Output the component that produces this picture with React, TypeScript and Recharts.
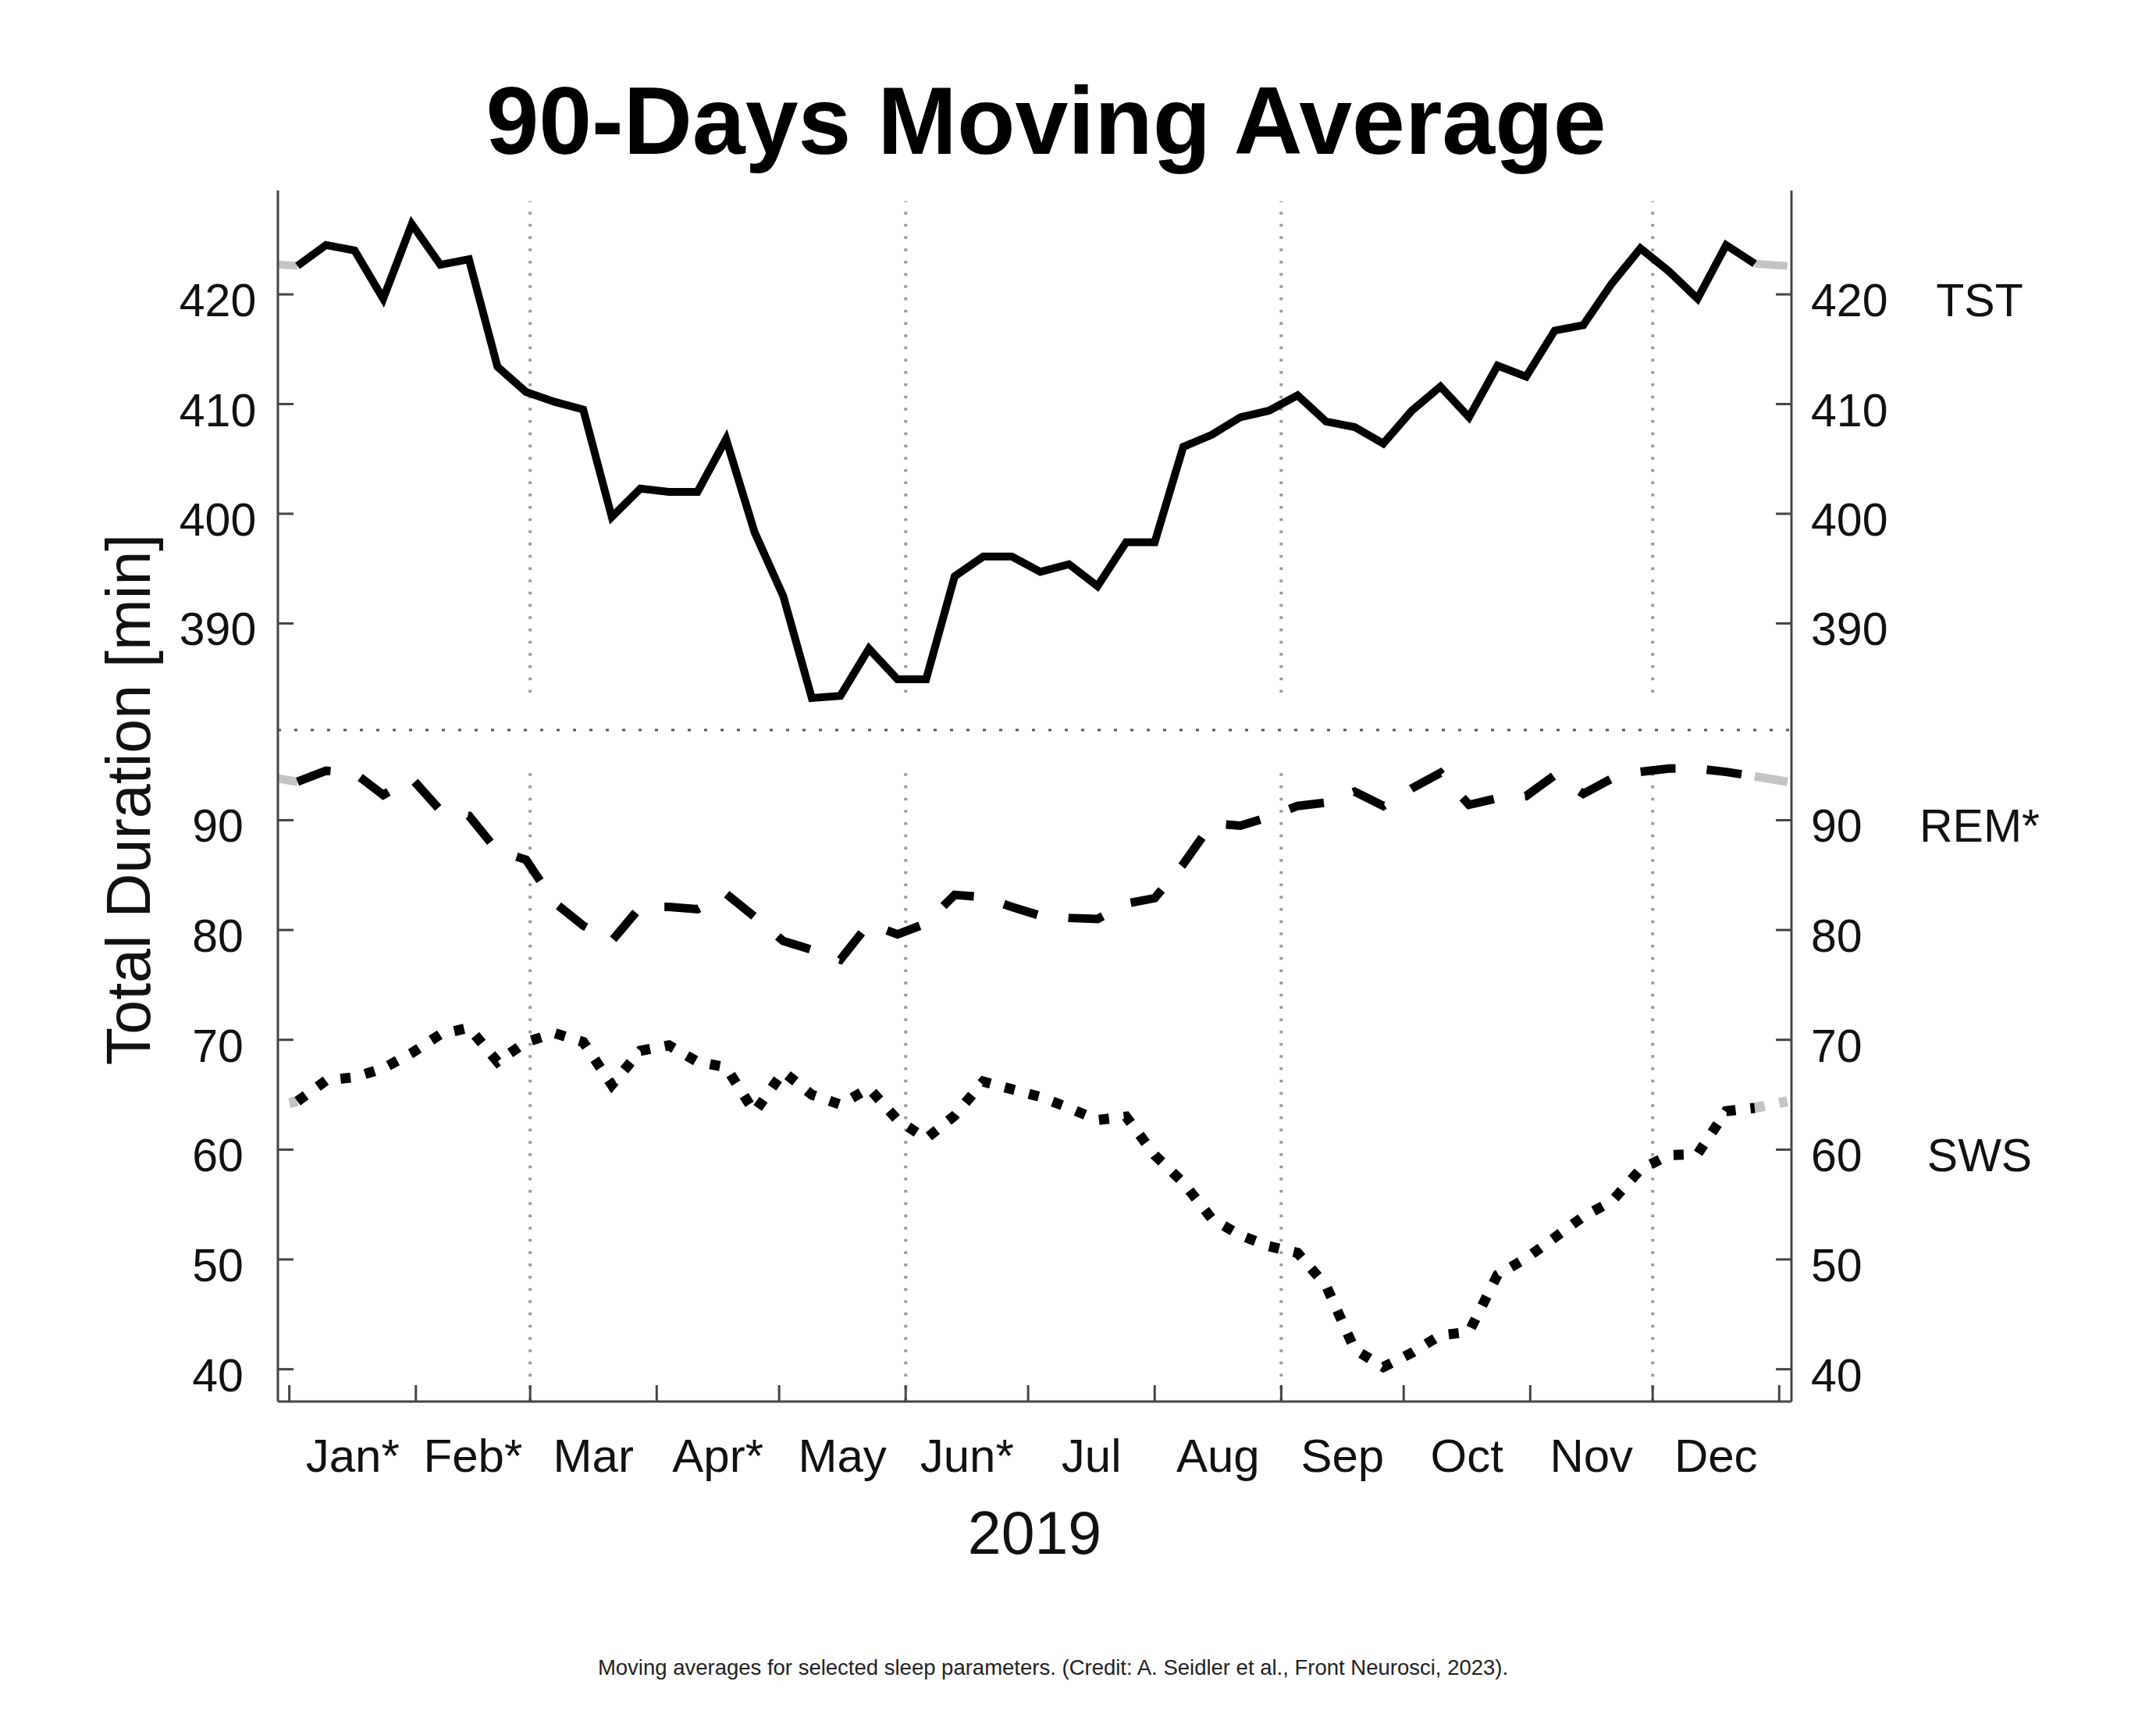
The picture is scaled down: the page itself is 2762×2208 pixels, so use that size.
import { LineChart, Line, XAxis, YAxis, ReferenceLine } from "recharts"

// weekly sample days (day of year, 0 = 1 Jan 2019)
const days = [
  2, 9, 16, 23, 30, 37, 44, 51, 58, 65, 72, 79, 86, 93, 100, 107, 114, 121, 128, 135, 142, 149, 156, 163, 170, 177,
  184, 191, 198, 205, 212, 219, 226, 233, 240, 247, 254, 261, 268, 275, 282, 289, 296, 303, 310, 317, 324, 331, 338,
  345, 352, 359,
]

// total sleep time, 90-day moving average [min]
const tst = [
  422.6, 424.5, 424.0, 419.6, 426.4, 422.7, 423.2, 413.4, 411.1, 410.2, 409.5, 399.7, 402.3, 402.0, 402.0, 406.8,
  398.3, 392.5, 383.2, 383.4, 387.7, 384.9, 384.9, 394.3, 396.1, 396.1, 394.7, 395.4, 393.4, 397.4, 397.4, 406.1,
  407.2, 408.8, 409.4, 410.8, 408.4, 407.9, 406.4, 409.4, 411.6, 408.8, 413.5, 412.5, 416.7, 417.2, 421.0, 424.2,
  422.1, 419.6, 424.5, 422.8,
]

const rem = [
  93.5, 94.5, 94.3, 92.3, 93.8, 90.9, 90.4, 87.2, 86.4, 82.5, 80.4, 79.0, 82.1, 82.1, 81.9, 83.3, 81.2, 79.0, 78.2,
  77.3, 80.6, 79.6, 80.6, 83.2, 83.0, 82.1, 81.3, 81.1, 81.0, 82.4, 82.9, 86.0, 89.7, 89.5, 90.3, 91.3, 91.6, 92.6,
  91.3, 92.9, 94.3, 91.4, 92.0, 92.2, 94.1, 92.4, 93.8, 94.4, 94.7, 94.7, 94.4, 94.0,
]

const sws = [
  64.4, 66.3, 66.6, 67.4, 68.8, 70.5, 71.1, 68.0, 69.8, 70.6, 69.8, 65.9, 69.0, 69.5, 68.0, 67.5, 63.4, 67.1, 65.0,
  64.1, 65.6, 62.7, 61.0, 63.1, 66.2, 65.5, 64.8, 63.8, 62.7, 63.0, 59.5, 57.0, 53.7, 52.2, 51.2, 50.6, 47.6, 41.8,
  40.2, 41.5, 43.1, 43.4, 48.6, 50.1, 52.0, 53.9, 55.3, 58.2, 59.5, 59.6, 63.5, 63.8,
]

const monthStarts = [0, 31, 59, 90, 120, 151, 181, 212, 243, 273, 304, 334, 365]
const monthLabels = ["Jan*", "Feb*", "Mar", "Apr*", "May", "Jun*", "Jul", "Aug", "Sep", "Oct", "Nov", "Dec"]
const seasonStarts = [59, 151, 243, 334]
const tstTicks = [390, 400, 410, 420]
const stageTicks = [40, 50, 60, 70, 80, 90]
const seriesNames = [
  { tick: 420, name: "TST" },
  { tick: 90, name: "REM*" },
  { tick: 60, name: "SWS" },
]

const rows = days.map((day, i) => ({ day, tst: tst[i], rem: rem[i], sws: sws[i] }))
const monthMids = monthLabels.map((_, i) => (monthStarts[i] + monthStarts[i + 1]) / 2)

// grey ends: the series wrapped round the year
function wrapEnds(values: number[]) {
  const n = days.length
  return {
    head: [
      { day: days[n - 1] - 365, v: values[n - 1] },
      { day: days[0], v: values[0] },
    ],
    tail: [
      { day: days[n - 1], v: values[n - 1] },
      { day: days[0] + 365, v: values[0] },
    ],
  }
}
const tstEnds = wrapEnds(tst)
const remEnds = wrapEnds(rem)
const swsEnds = wrapEnds(sws)

const FONT = "'Liberation Sans', Arial, Helvetica, sans-serif"
const GREY = "#c4c4c4"
const X_DOMAIN: [number, number] = [-2.8, 368]
const TOP_DOMAIN: [number, number] = [380.28, 429.47]
const BOTTOM_DOMAIN: [number, number] = [37.06, 98.21]
const axisStyle = { stroke: "#444", strokeWidth: 3 }
const seasonStyle = { stroke: "#9a9a9a", strokeWidth: 4, strokeDasharray: "3.5 12.2" }

const remDash = "45 40"
const swsDash = "13 19"

function LeftTick(props: any) {
  const { x, y, payload } = props
  return (
    <text x={x} y={y} dy={28} textAnchor="middle" fontSize={59} fill="#111" fontFamily={FONT}>
      {payload.value}
    </text>
  )
}

function RightTick(props: any) {
  const { x, y, payload } = props
  const series = seriesNames.find((s) => s.tick === payload.value)
  return (
    <g>
      <text x={x} y={y} dy={28} textAnchor="start" fontSize={59} fill="#111" fontFamily={FONT}>
        {payload.value}
      </text>
      {series && (
        <text x={x + 216} y={y} dy={28} textAnchor="middle" fontSize={59} fill="#111" fontFamily={FONT}>
          {series.name}
        </text>
      )}
    </g>
  )
}

function TopPanel() {
  return (
    <LineChart width={2762} height={1000} data={rows} margin={{ top: 244, right: 0, bottom: 65, left: 0 }}>
      <XAxis dataKey="day" type="number" domain={X_DOMAIN} allowDataOverflow hide ticks={monthStarts} />
      <YAxis
        yAxisId="l"
        orientation="left"
        width={356}
        domain={TOP_DOMAIN}
        allowDataOverflow
        ticks={tstTicks}
        interval={0}
        tickSize={-20}
        tickMargin={97}
        axisLine={axisStyle}
        tickLine={axisStyle}
        tick={<LeftTick />}
      />
      <YAxis
        yAxisId="r"
        orientation="right"
        width={467}
        domain={TOP_DOMAIN}
        allowDataOverflow
        ticks={tstTicks}
        interval={0}
        tickSize={-20}
        tickMargin={45}
        axisLine={axisStyle}
        tickLine={axisStyle}
        tick={<RightTick />}
      />
      {seasonStarts.map((d) => (
        <ReferenceLine
          key={d}
          yAxisId="l"
          segment={[
            { x: d, y: 383.7 },
            { x: d, y: 428.5 },
          ]}
          {...seasonStyle}
        />
      ))}
      <ReferenceLine
        yAxisId="l"
        y={TOP_DOMAIN[0]}
        ifOverflow="visible"
        stroke="#555"
        strokeWidth={3}
        strokeDasharray="4 17"
      />
      <Line yAxisId="l" data={tstEnds.head} dataKey="v" stroke={GREY} strokeWidth={10} dot={false} activeDot={false} isAnimationActive={false} />
      <Line yAxisId="l" data={tstEnds.tail} dataKey="v" stroke={GREY} strokeWidth={10} dot={false} activeDot={false} isAnimationActive={false} />
      <Line yAxisId="l" dataKey="tst" stroke="#000" strokeWidth={10} dot={false} activeDot={false} isAnimationActive={false} />
    </LineChart>
  )
}

function BottomPanel() {
  return (
    <LineChart width={2762} height={1308} data={rows} margin={{ top: 35, right: 0, bottom: 292, left: 0 }}>
      <XAxis
        xAxisId="d"
        dataKey="day"
        type="number"
        domain={X_DOMAIN}
        allowDataOverflow
        ticks={monthStarts}
        interval={0}
        tickSize={-21}
        tickFormatter={() => ""}
        height={1}
        axisLine={axisStyle}
        tickLine={axisStyle}
      />
      <XAxis
        xAxisId="m"
        dataKey="day"
        type="number"
        domain={X_DOMAIN}
        allowDataOverflow
        ticks={monthMids}
        interval={0}
        tickLine={false}
        axisLine={false}
        tickSize={0}
        tickMargin={46}
        height={120}
        tickFormatter={(v) => monthLabels[monthMids.indexOf(v)] ?? ""}
        tick={{ fontSize: 60, fill: "#111", fontFamily: FONT }}
        label={{ value: "2019", position: "bottom", offset: 19, fontSize: 77, fill: "#111", fontFamily: FONT }}
      />
      <YAxis
        yAxisId="l"
        orientation="left"
        width={356}
        domain={BOTTOM_DOMAIN}
        allowDataOverflow
        ticks={stageTicks}
        interval={0}
        tickSize={-20}
        tickMargin={97}
        axisLine={axisStyle}
        tickLine={axisStyle}
        tick={<LeftTick />}
      />
      <YAxis
        yAxisId="r"
        orientation="right"
        width={467}
        domain={BOTTOM_DOMAIN}
        allowDataOverflow
        ticks={stageTicks}
        interval={0}
        tickSize={-20}
        tickMargin={45}
        axisLine={axisStyle}
        tickLine={axisStyle}
        tick={<RightTick />}
      />
      {seasonStarts.map((d) => (
        <ReferenceLine
          key={d}
          xAxisId="d"
          yAxisId="l"
          segment={[
            { x: d, y: 37.1 },
            { x: d, y: 95.1 },
          ]}
          {...seasonStyle}
        />
      ))}
      <Line xAxisId="d" yAxisId="l" data={remEnds.head} dataKey="v" stroke={GREY} strokeWidth={11} strokeDasharray={remDash} dot={false} activeDot={false} isAnimationActive={false} />
      <Line xAxisId="d" yAxisId="l" data={remEnds.tail} dataKey="v" stroke={GREY} strokeWidth={11} strokeDasharray={remDash} dot={false} activeDot={false} isAnimationActive={false} />
      <Line xAxisId="d" yAxisId="l" data={swsEnds.head} dataKey="v" stroke={GREY} strokeWidth={13} strokeDasharray={swsDash} dot={false} activeDot={false} isAnimationActive={false} />
      <Line xAxisId="d" yAxisId="l" data={swsEnds.tail} dataKey="v" stroke={GREY} strokeWidth={13} strokeDasharray={swsDash} dot={false} activeDot={false} isAnimationActive={false} />
      <Line xAxisId="d" yAxisId="l" dataKey="rem" stroke="#000" strokeWidth={11} strokeDasharray={remDash} dot={false} activeDot={false} isAnimationActive={false} />
      <Line xAxisId="d" yAxisId="l" dataKey="sws" stroke="#000" strokeWidth={13} strokeDasharray={swsDash} dot={false} activeDot={false} isAnimationActive={false} />
    </LineChart>
  )
}

export default function App() {
  return (
    <div
      style={{
        position: "absolute",
        left: 0,
        top: 0,
        width: 2762,
        height: 2208,
        background: "#fff",
        fontFamily: FONT,
        color: "#111",
        overflow: "hidden",
      }}
    >
      <div
        style={{
          position: "absolute",
          left: 1340,
          top: 94,
          transform: "translateX(-50%)",
          fontSize: 122,
          fontWeight: 700,
          lineHeight: 1,
          whiteSpace: "nowrap",
          color: "#000",
        }}
      >
        90-Days Moving Average
      </div>
      <div style={{ position: "absolute", left: 0, top: 0 }}>
        <TopPanel />
      </div>
      <div style={{ position: "absolute", left: 0, top: 900 }}>
        <BottomPanel />
      </div>
      <div
        style={{
          position: "absolute",
          left: 164,
          top: 1024,
          transform: "translate(-50%, -50%) rotate(-90deg)",
          fontSize: 79,
          lineHeight: 1,
          whiteSpace: "nowrap",
        }}
      >
        Total Duration [min]
      </div>
      <div
        style={{
          position: "absolute",
          left: 1349,
          top: 2122,
          transform: "translateX(-50%)",
          fontSize: 27.5,
          lineHeight: 1,
          whiteSpace: "nowrap",
          color: "#222",
        }}
      >
        Moving averages for selected sleep parameters. (Credit: A. Seidler et al., Front Neurosci, 2023).
      </div>
    </div>
  )
}
